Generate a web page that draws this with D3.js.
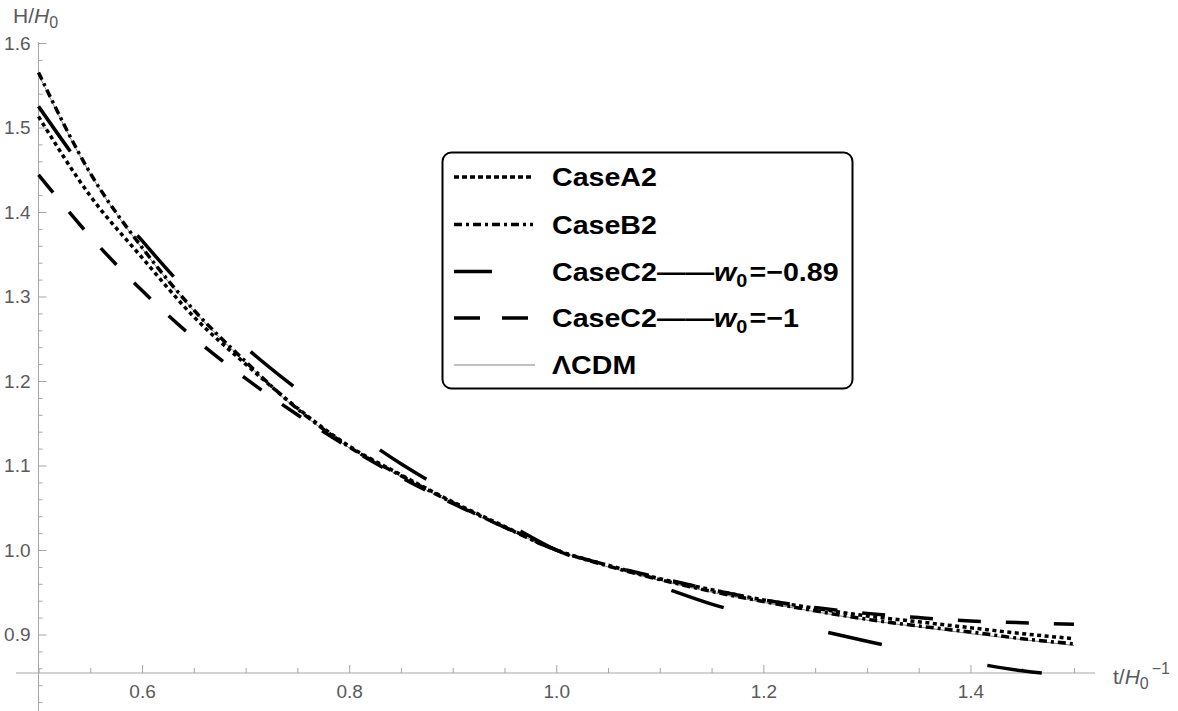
<!DOCTYPE html>
<html>
<head>
<meta charset="utf-8">
<script src="https://cdn.jsdelivr.net/npm/d3@7"></script>
<style>
  body { margin: 0; background: #fff; }
  svg { display: block; font-family: "Liberation Sans", Arial, sans-serif; }
</style>
</head>
<body>
<script>
// time in units of 1/H0
var tValues = [0.50, 0.55, 0.60, 0.65, 0.70, 0.75, 0.80, 0.85, 0.90, 0.95, 1.00,
  1.05, 1.10, 1.15, 1.20, 1.25, 1.30, 1.35, 1.40, 1.45, 1.50];

var caseA2 = [1.513, 1.419, 1.346, 1.276, 1.220, 1.168, 1.123, 1.089, 1.057, 1.028, 1.000,
  0.982, 0.966, 0.953, 0.941, 0.931, 0.922, 0.915, 0.908, 0.901, 0.895];
var caseB2 = [1.565, 1.446, 1.358, 1.284, 1.223, 1.167, 1.122, 1.088, 1.056, 1.027, 1.000,
  0.981, 0.965, 0.951, 0.939, 0.928, 0.918, 0.910, 0.903, 0.895, 0.889];
var caseC2w089 = [1.525, 1.440, 1.366, 1.298, 1.240, 1.190, 1.144, 1.102, 1.066, 1.033, 1.000,
  0.977, 0.957, 0.936, 0.920, 0.906, 0.892, 0.879, 0.867, 0.857, 0.851];
var caseC2w1 = [1.444, 1.371, 1.307, 1.251, 1.203, 1.160, 1.121, 1.086, 1.055, 1.027, 1.000,
  0.982, 0.967, 0.953, 0.941, 0.932, 0.925, 0.920, 0.916, 0.914, 0.912];
var lcdm = [1.563, 1.445, 1.357, 1.283, 1.222, 1.166, 1.121, 1.087, 1.055, 1.026, 1.000,
  0.980, 0.964, 0.950, 0.938, 0.927, 0.917, 0.909, 0.901, 0.894, 0.887];

var xMajor = [0.6, 0.8, 1.0, 1.2, 1.4];
var xMinor = [0.5, 0.55, 0.65, 0.7, 0.75, 0.85, 0.9, 0.95, 1.05, 1.1, 1.15, 1.25, 1.3, 1.35, 1.45, 1.5];
var yMajor = [0.9, 1.0, 1.1, 1.2, 1.3, 1.4, 1.5, 1.6];
var yMinor = [0.82, 0.84, 0.86, 0.88, 0.92, 0.94, 0.96, 0.98, 1.02, 1.04, 1.06, 1.08,
  1.12, 1.14, 1.16, 1.18, 1.22, 1.24, 1.26, 1.28, 1.32, 1.34, 1.36, 1.38,
  1.42, 1.44, 1.46, 1.48, 1.52, 1.54, 1.56, 1.58];

var width = 1178, height = 711;
var axisColor = "#a6a6a6", labelColor = "#5a5a5a";

var svg = d3.select("body").append("svg")
  .attr("width", width)
  .attr("height", height);

var x = d3.scaleLinear().domain([0.5, 1.5]).range([38.5, 1074]);
var y = d3.scaleLinear().domain([0.9, 1.6]).range([634.5, 43]);
var axisY = 673;

// axes lines
svg.append("line")
  .attr("x1", 16).attr("x2", 1095)
  .attr("y1", axisY).attr("y2", axisY)
  .attr("stroke", axisColor).attr("stroke-width", 1);
svg.append("line")
  .attr("x1", x(0.5)).attr("x2", x(0.5))
  .attr("y1", y(1.6) - 1).attr("y2", height)
  .attr("stroke", axisColor).attr("stroke-width", 1);

function styleAxis(g) {
  g.select(".domain").remove();
  g.selectAll(".tick line").attr("stroke", axisColor);
  g.selectAll(".tick text")
    .attr("fill", labelColor)
    .style("font-size", "19px")
    .style("font-family", "'Liberation Sans', Arial, sans-serif");
}

var xAxis = d3.axisBottom(x).tickValues(xMajor).tickSize(-8).tickPadding(12)
  .tickFormat(d3.format(".1f"));
svg.append("g").attr("transform", "translate(0," + axisY + ")").call(xAxis).call(styleAxis);
svg.append("g").attr("transform", "translate(0," + axisY + ")")
  .call(d3.axisBottom(x).tickValues(xMinor).tickSize(-5).tickFormat(""))
  .call(styleAxis);

var yAxis = d3.axisLeft(y).tickValues(yMajor).tickSize(-8).tickPadding(8)
  .tickFormat(d3.format(".1f"));
svg.append("g").attr("transform", "translate(" + x(0.5) + ",0)").call(yAxis).call(styleAxis);
svg.append("g").attr("transform", "translate(" + x(0.5) + ",0)")
  .call(d3.axisLeft(y).tickValues(yMinor).tickSize(-4).tickFormat(""))
  .call(styleAxis);

// axis labels
var yLab = svg.append("text").attr("x", 13).attr("y", 23)
  .attr("fill", labelColor).style("font-size", "21px");
yLab.append("tspan").text("H/");
yLab.append("tspan").style("font-style", "italic").text("H");
yLab.append("tspan").attr("dy", 5).style("font-size", "16px").text("0");

var xLab = svg.append("text").attr("x", 1113).attr("y", 684)
  .attr("fill", labelColor).style("font-size", "21px");
xLab.append("tspan").text("t/");
xLab.append("tspan").style("font-style", "italic").text("H");
xLab.append("tspan").attr("dy", 5).style("font-size", "16px").text("0");
xLab.append("tspan").attr("dy", -15).attr("dx", 3).style("font-size", "16px").text("\u22121");

// curves
var series = [
  { name: "CaseA2", values: caseA2, width: 3.5, color: "#000", dash: "4,3.5", legendDash: "5,3" },
  { name: "CaseB2", values: caseB2, width: 3.5, color: "#000", dash: "8,4,3,4", legendDash: "8,4,3,4" },
  { name: "CaseC2 w0=-0.89", values: caseC2w089, width: 3.5, color: "#000", dash: "55,107.5", legendDash: "38,80" },
  { name: "CaseC2 w0=-1", values: caseC2w1, width: 3.5, color: "#000", dash: "23,25", legendDash: "26,22" },
  { name: "LCDM", values: lcdm, width: 1, color: "#808080", dash: null, legendDash: null }
];

var line = d3.line()
  .x(function (d) { return x(d[0]); })
  .y(function (d) { return y(d[1]); })
  .curve(d3.curveMonotoneX);

// draw LCDM first so dashes sit on top
var drawOrder = [4, 3, 2, 1, 0];
drawOrder.forEach(function (k) {
  var s = series[k];
  var pts = tValues.map(function (t, i) { return [t, s.values[i]]; });
  svg.append("path")
    .datum(pts)
    .attr("d", line)
    .attr("fill", "none")
    .attr("stroke", s.color)
    .attr("stroke-width", s.width)
    .attr("stroke-dasharray", s.dash);
});

// legend
var legend = svg.append("g");
legend.append("rect")
  .attr("x", 442.5).attr("y", 152.5)
  .attr("width", 410).attr("height", 236)
  .attr("rx", 9).attr("ry", 9)
  .attr("fill", "#fff")
  .attr("stroke", "#000").attr("stroke-width", 2);

var rowY = [177, 224.5, 271.5, 318, 365];
series.forEach(function (s, i) {
  legend.append("line")
    .attr("x1", 454).attr("x2", s.dash ? 533 : 535)
    .attr("y1", rowY[i]).attr("y2", rowY[i])
    .attr("stroke", s.color)
    .attr("stroke-width", s.width)
    .attr("stroke-dasharray", s.legendDash);
});

// legend type is a bit wider than the plain font, so stretch it horizontally
function legendText(i) {
  return legend.append("text")
    .attr("transform", "translate(552," + (rowY[i] + 9) + ") scale(1.1,1)")
    .attr("fill", "#000")
    .style("font-size", "26px")
    .style("font-weight", "bold");
}
legendText(0).text("CaseA2");
legendText(1).text("CaseB2");
[2, 3].forEach(function (i) {
  var t = legendText(i);
  t.append("tspan").text("CaseC2\u2014\u2014");
  t.append("tspan").style("font-style", "italic").text("w");
  t.append("tspan").attr("dy", 6).style("font-size", "18px").text("0");
  t.append("tspan").attr("dy", -6).attr("dx", 2).text(i === 2 ? "=\u22120.89" : "=\u22121");
});
legendText(4).text("\u039BCDM");
</script>
</body>
</html>
